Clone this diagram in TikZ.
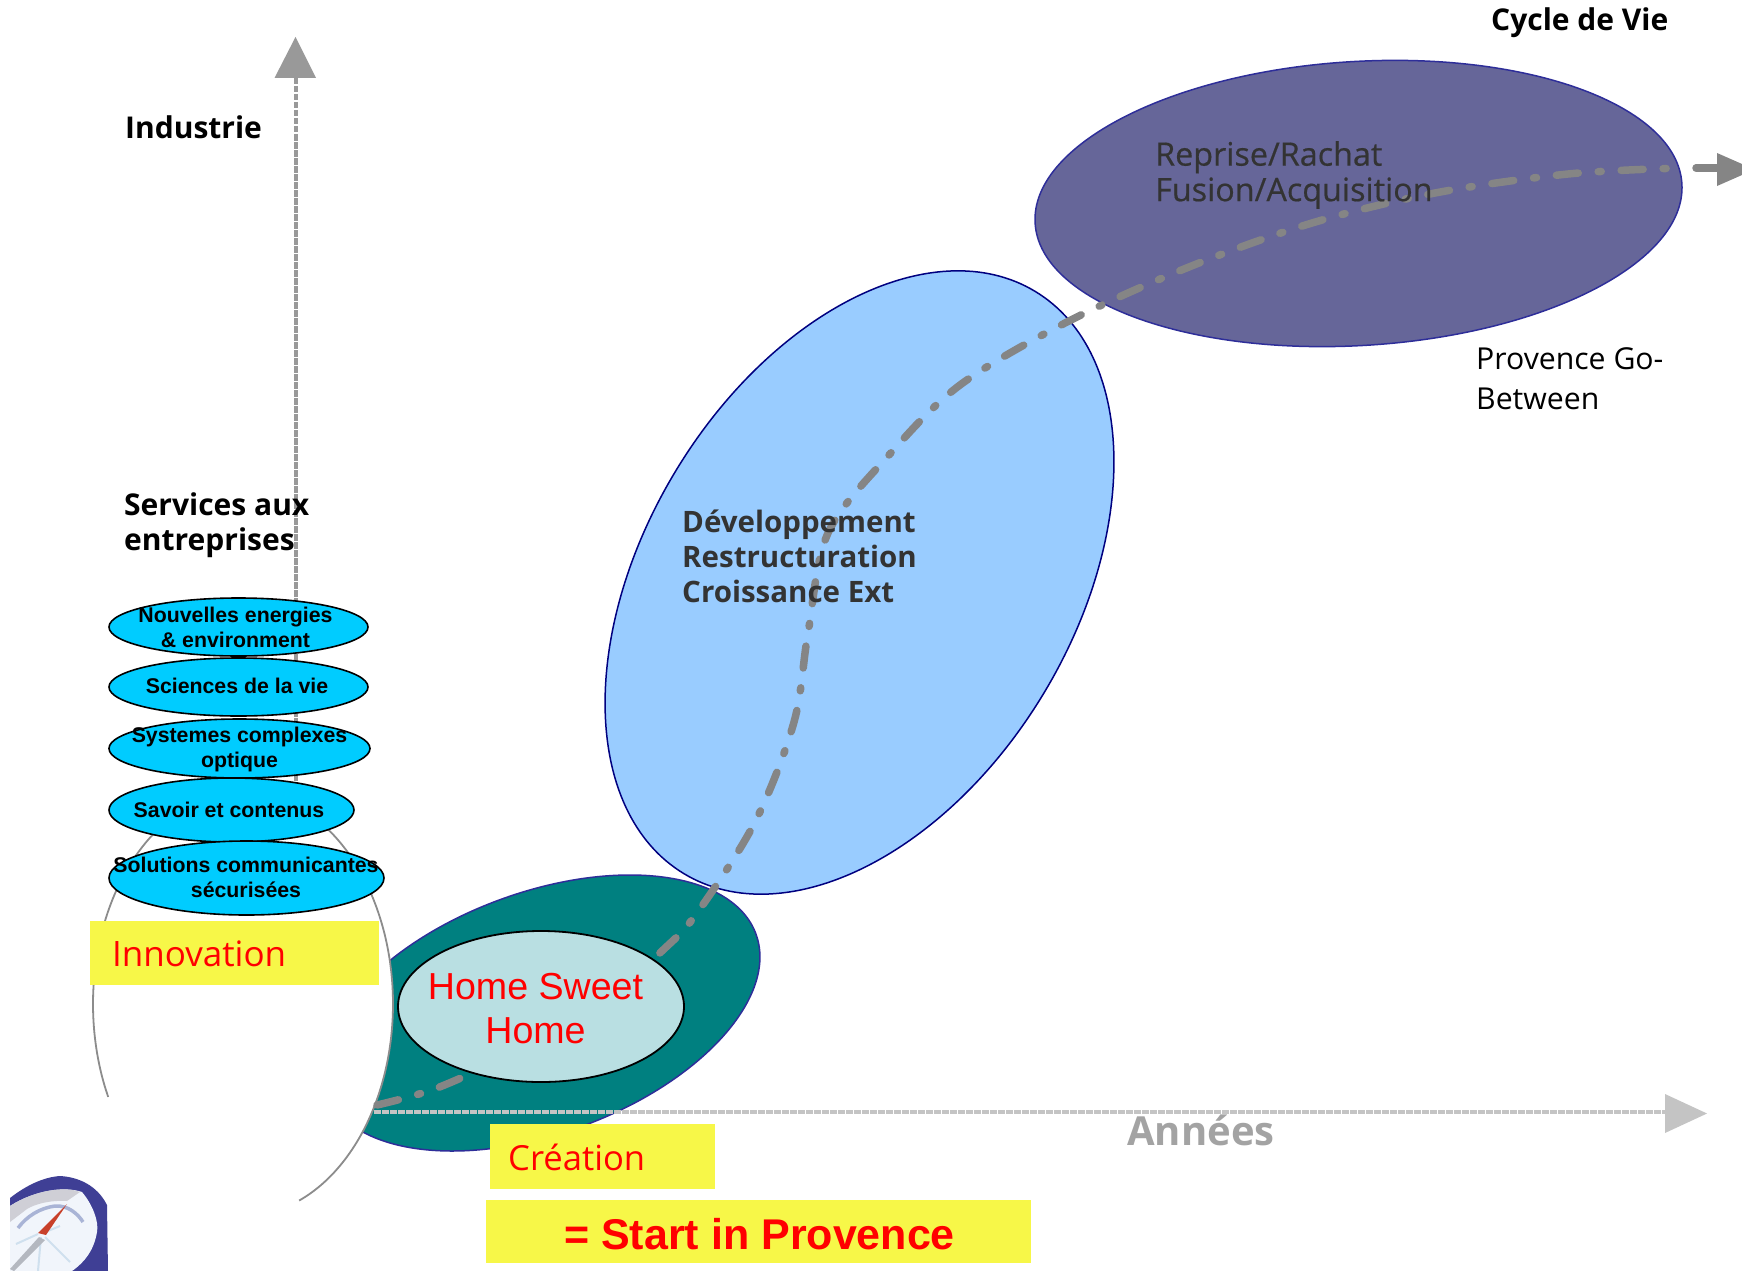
\documentclass[tikz,border=0pt]{standalone}
\usepackage{fontspec}
\setmainfont{Open Sans}
\newfontfamily\arial{Liberation Sans}
\newfontfamily\medsans[FakeBold=0.5]{Open Sans}
\usetikzlibrary{shapes.geometric}
\definecolor{tealfill}{HTML}{008080}
\definecolor{blueell}{HTML}{99CCFF}
\definecolor{purpleell}{HTML}{666699}
\definecolor{edgeblue}{HTML}{2E2E99}
\definecolor{edgenavy}{HTML}{000080}
\definecolor{cyanell}{HTML}{00CCFF}
\definecolor{paleell}{HTML}{B9DFE2}
\definecolor{yellowbox}{HTML}{F7F748}
\definecolor{darktext}{HTML}{333333}
\definecolor{vaxis}{HTML}{999999}
\definecolor{haxis}{HTML}{C4C4C4}
\definecolor{curvegray}{HTML}{858585}
\definecolor{ringblue}{HTML}{3F3F95}
\definecolor{faceblue}{HTML}{F1F5FB}
\definecolor{bezel}{HTML}{CFCFD6}
\definecolor{arcblue}{HTML}{A9B4D6}
\definecolor{rayblue}{HTML}{CFE0EE}
\definecolor{needlered}{HTML}{C8402A}
\definecolor{needlegray}{HTML}{B4B8C0}
\tikzset{
  x=1pt,y=-1pt,
  bigell/.style={ellipse,inner sep=0pt,outer sep=0pt,draw,line width=1.5pt},
  smallell/.style={ellipse,inner sep=0pt,outer sep=0pt,draw=black,fill=cyanell,line width=1.6pt},
  smalltext/.style={font=\arial\bfseries\fontsize{21.3}{25}\selectfont,inner sep=0pt,align=center,text=black},
  yellowrect/.style={fill=yellowbox,draw=none,inner sep=0pt,outer sep=0pt},
  label/.style={inner sep=0pt,anchor=west,align=left},
  axisline/.style={line width=4pt,dash pattern=on 6.5pt off 1.5pt},
  growth/.style={draw=curvegray,line width=7.5pt,line cap=round,dash pattern=on 22pt off 20pt on 3pt off 20pt},
}
\begin{document}
\begin{tikzpicture}
\useasboundingbox (0,0) rectangle (1742,1271);
\fill[white] (0,0) rectangle (1742,1271);
% vertical axis
\coordinate (vtop) at (295.5,70);
\coordinate (vbot) at (295.5,800);
\draw[axisline,color=vaxis] (vtop) -- (vbot);
\fill[vaxis] (295.5,37) -- (316,78) -- (274.5,78) -- cycle;
% big ellipses
\node[bigell,draw=edgeblue,fill=tealfill,rotate=20.2,minimum width=458pt,minimum height=241pt] (teal) at (541,1013) {};
\node[bigell,draw=edgenavy,fill=blueell,rotate=58.9,minimum width=680pt,minimum height=430pt] (blue) at (859.5,582.5) {};
\node[bigell,draw=edgeblue,fill=purpleell,rotate=3.5,minimum width=648pt,minimum height=284pt] (purple) at (1358.5,203.5) {};
% white oval with partial outline
\fill[white] (243,1004) ellipse [x radius=150pt,y radius=212pt];
\draw[color=black!45,line width=1.8pt] plot[domain=206:-68,samples=90,smooth] ({243+150*cos(\x)},{1004-212*sin(\x)});
% growth curve
\coordinate (g0) at (377,1105);
\coordinate (g1) at (437,1088);
\coordinate (g2) at (520,1050);
\coordinate (g3) at (600,1005);
\coordinate (g4) at (663,950);
\coordinate (g5) at (697,913);
\coordinate (g6) at (755,822);
\coordinate (g7) at (794,722);
\coordinate (g8) at (808,633);
\coordinate (g9) at (828,533);
\coordinate (g10) at (889,455);
\coordinate (g11) at (960,385);
\coordinate (g12) at (1067,322);
\coordinate (g13) at (1189,267);
\coordinate (g14) at (1312,223);
\coordinate (g15) at (1435,193);
\coordinate (g16) at (1568,174);
\coordinate (g17) at (1681,168);
\coordinate (g18) at (1696,168);
\coordinate (g19) at (1718,168);
\draw[growth] plot[smooth,tension=0.55] coordinates {(g0)(g1)(g2)(g3)(g4)(g5)(g6)(g7)(g8)(g9)(g10)(g11)(g12)(g13)(g14)(g15)(g16)(g17)};
\draw[draw=curvegray,line width=7.5pt,line cap=round] (g18) -- (g19);
\fill[curvegray] (1717,153) -- (1742,164) -- (1742,175) -- (1717,186) -- cycle;
% inner ellipse
\node[bigell,draw=black,fill=paleell,line width=1.8pt,minimum width=286pt,minimum height=151pt] (home) at (541,1006.5) {};
\node[inner sep=0pt,align=center,text=red,font=\arial\fontsize{37.6}{44}\selectfont] (hometext) at (535.5,1008.5) {Home Sweet\\Home};
% horizontal axis
\coordinate (hl) at (374,1112);
\coordinate (hr) at (1670,1112);
\draw[axisline,color=haxis] (hl) -- (hr);
\fill[haxis] (1665,1094) -- (1707,1113.5) -- (1665,1133) -- cycle;
% small ellipses
\node[smallell,minimum width=259pt,minimum height=58pt] (e1) at (238.5,627) {};
\node[smallell,minimum width=259pt,minimum height=58pt] (e2) at (238.5,687) {};
\node[smallell,minimum width=261pt,minimum height=59pt] (e3) at (239.5,748.5) {};
\node[smallell,minimum width=245pt,minimum height=64pt] (e4) at (231.5,810) {};
\node[smallell,minimum width=275pt,minimum height=74pt] (e5) at (246.5,878) {};
\node[smalltext] (t1) at (235.5,627) {Nouvelles energies\\\& environment};
\node[smalltext] (t2) at (237,686) {Sciences de la vie};
\node[smalltext] (t3) at (239.5,749.5) {Systemes complexes\\optique};
\node[smalltext] (t4) at (229,810) {Savoir et contenus};
\node[smalltext] (t5) at (246,877.5) {Solutions communicantes\\sécurisées};
% yellow boxes
\node[yellowrect,minimum width=289pt,minimum height=64.5pt] (b1) at (234.5,952.75) {};
\node[yellowrect,minimum width=225pt,minimum height=65pt] (b2) at (602.5,1156.5) {};
\node[yellowrect,minimum width=545pt,minimum height=63pt] (b3) at (758.5,1231.5) {};
\node[label,text=red,font=\fontsize{35}{42}\selectfont] (innov) at (112,954) {Innovation};
\node[label,text=red,font=\fontsize{34.6}{42}\selectfont] (creat) at (508,1157.5) {Création};
\node[label,text=red,font=\arial\bfseries\fontsize{43}{48}\selectfont] (start) at (564,1234) {= Start in Provence};
% labels
\node[label,font=\bfseries\fontsize{30}{36}\selectfont] (ind) at (125,127) {Industrie};
\node[label,font=\bfseries\fontsize{30}{35.5}\selectfont] (serv) at (124,525) {Services aux\\entreprises};
\node[label,font=\bfseries\fontsize{30}{36}\selectfont] (cyc) at (1491,23) {Cycle de Vie};
\node[label,text=darktext,font=\medsans\fontsize{32.3}{35.5}\selectfont] (rep) at (1155,175) {Reprise/Rachat\\Fusion/Acquisition};
\node[label,text=darktext,font=\bfseries\fontsize{29.5}{35}\selectfont] (dev) at (682,556) {Développement\\Restructuration\\Croissance Ext};
\node[label,font=\fontsize{30.2}{40}\selectfont] (prov) at (1476,379) {Provence Go-\\Between};
\node[label,text=vaxis!90!white,font=\bfseries\fontsize{40}{42}\selectfont] (ann) at (1127,1130.5) {Années};
% compass emblem
\begin{scope}
\clip (10,1271) -- (10,1198) .. controls (28,1184) and (45,1177) .. (60,1176) .. controls (78,1177) and (97,1185) .. (107,1205) -- (108,1271) -- cycle;
\fill[ringblue] (0,1170) rectangle (115,1271);
\fill[faceblue] (10,1206) .. controls (35,1190) and (65,1186) .. (82,1192) .. controls (93,1205) and (99,1222) .. (97,1232) .. controls (94,1250) and (85,1262) .. (72,1271) -- (10,1271) -- cycle;
\fill[bezel] (10,1206) .. controls (35,1190) and (65,1186) .. (80,1192) -- (67,1201) .. controls (50,1200) and (35,1204) .. (27,1209) -- (10,1222) -- cycle;
\draw[arcblue,line width=3.5pt] (18,1228) .. controls (27,1216) and (40,1208) .. (55,1206) .. controls (68,1205) and (78,1214) .. (83,1222);
\draw[rayblue,line width=2pt] (41,1237) -- (38,1271);
\draw[rayblue,line width=2pt] (45,1237) -- (70,1262);
\draw[rayblue,line width=2pt] (38,1234) -- (16,1244);
\draw[rayblue,line width=2pt] (43,1233) -- (60,1226);
\fill[needlegray] (39,1237) -- (45,1240) -- (14,1271) -- (10,1269) -- cycle;
\fill[needlered] (67,1204) -- (46,1235) -- (38,1233) -- cycle;
\end{scope}
\end{tikzpicture}
\end{document}
